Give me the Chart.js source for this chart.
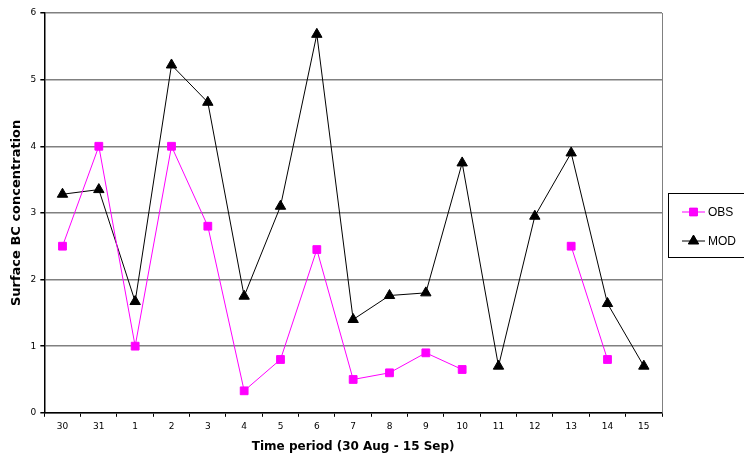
<!DOCTYPE html>
<html>
<head>
<meta charset="utf-8">
<script src="https://cdn.jsdelivr.net/npm/chart.js@4"></script>
<style>
    html, body { margin: 0; padding: 0; background: #fff; }
    #wrap { width: 744px; height: 455px; position: relative; }
</style>
</head>
<body>
<div id="wrap"><canvas id="bcChart"></canvas></div>
<script>
// даты периода 30 Aug - 15 Sep
const days = ["30", "31", "1", "2", "3", "4", "5", "6", "7", "8", "9", "10", "11", "12", "13", "14", "15"];
const obsValues = [2.5, 4.0, 1.0, 4.0, 2.8, 0.33, 0.8, 2.45, 0.5, 0.6, 0.9, 0.65, null, null, 2.5, 0.8, null];
const modValues = [3.28, 3.35, 1.67, 5.22, 4.66, 1.75, 3.1, 5.68, 1.4, 1.76, 1.8, 3.75, 0.7, 2.95, 3.9, 1.64, 0.7];
const yTicks = [0, 1, 2, 3, 4, 5, 6];

// рамка справа у области графика + легенда в рамке
const boxLegend = {
    id: "boxLegend",
    afterDraw(chart) {
        const ctx = chart.ctx;
        const a = chart.chartArea;
        ctx.save();
        ctx.strokeStyle = "#808080";
        ctx.lineWidth = 1;
        ctx.beginPath();
        ctx.moveTo(a.right + 0.5, a.top);
        ctx.lineTo(a.right + 0.5, a.bottom);
        ctx.stroke();

        const lx = 668.5, ly = 193.5;
        ctx.strokeStyle = "#000";
        ctx.strokeRect(lx, ly, 90, 64);

        ctx.font = "12px 'Liberation Sans', Arial, sans-serif";
        ctx.textBaseline = "middle";
        chart.data.datasets.forEach((ds, i) => {
            const y = 212 + i * 29;
            ctx.strokeStyle = ds.borderColor;
            ctx.beginPath();
            ctx.moveTo(682, y);
            ctx.lineTo(705, y);
            ctx.stroke();
            Chart.helpers.drawPoint(ctx, {
                pointStyle: ds.pointStyle,
                radius: ds.pointRadius,
                borderWidth: 1
            }, 693.5, y);
            ctx.fillStyle = ds.pointBackgroundColor;
            ctx.fill();
            ctx.fillStyle = "#000";
            ctx.fillText(ds.label, 708, y + 1);
        });
        ctx.restore();
    }
};

new Chart(document.getElementById("bcChart"), {
    type: "line",
    data: {
        labels: days,
        datasets: [
            {
                label: "OBS",
                data: obsValues,
                borderColor: "#FF00FF",
                backgroundColor: "#FF00FF",
                pointBackgroundColor: "#FF00FF",
                pointBorderColor: "#FF00FF",
                pointStyle: "rect",
                pointRadius: 5.5,
                borderWidth: 1,
                spanGaps: false,
                tension: 0
            },
            {
                label: "MOD",
                data: modValues,
                borderColor: "#000000",
                backgroundColor: "#000000",
                pointBackgroundColor: "#000000",
                pointBorderColor: "#000000",
                pointStyle: "triangle",
                pointRadius: 6,
                borderWidth: 1,
                tension: 0
            }
        ]
    },
    options: {
        responsive: true,
        maintainAspectRatio: false,
        animation: false,
        layout: { padding: { top: 13, right: 82, left: 9, bottom: 1 } },
        plugins: {
            legend: { display: false },
            tooltip: { enabled: false }
        },
        scales: {
            x: {
                offset: true,
                grid: {
                    offset: true,
                    drawOnChartArea: false,
                    tickColor: "#000",
                    tickLength: 4
                },
                border: { color: "#000", width: 1.5 },
                ticks: {
                    color: "#000",
                    font: { family: "'DejaVu Sans', Verdana, sans-serif", size: 9 },
                    maxRotation: 0,
                    padding: 4
                },
                title: {
                    display: true,
                    text: "Time period (30 Aug - 15 Sep)",
                    color: "#000",
                    font: { family: "'DejaVu Sans', Verdana, sans-serif", size: 12, weight: "bold" },
                    padding: { top: 4, bottom: 0 }
                }
            },
            y: {
                min: 0,
                max: 6,
                afterBuildTicks: axis => { axis.ticks = yTicks.map(v => ({ value: v })); },
                grid: {
                    color: "#808080",
                    lineWidth: 1.5,
                    tickColor: "#000",
                    tickLength: 4
                },
                border: { color: "#000", width: 1.5 },
                ticks: {
                    color: "#000",
                    font: { family: "'DejaVu Sans', Verdana, sans-serif", size: 9 },
                    padding: 4
                },
                title: {
                    display: true,
                    text: "Surface BC concentration",
                    color: "#000",
                    font: { family: "'DejaVu Sans', Verdana, sans-serif", size: 13, weight: "bold" },
                    padding: { top: 0, bottom: 2 }
                }
            }
        }
    },
    plugins: [boxLegend]
});
</script>
</body>
</html>
